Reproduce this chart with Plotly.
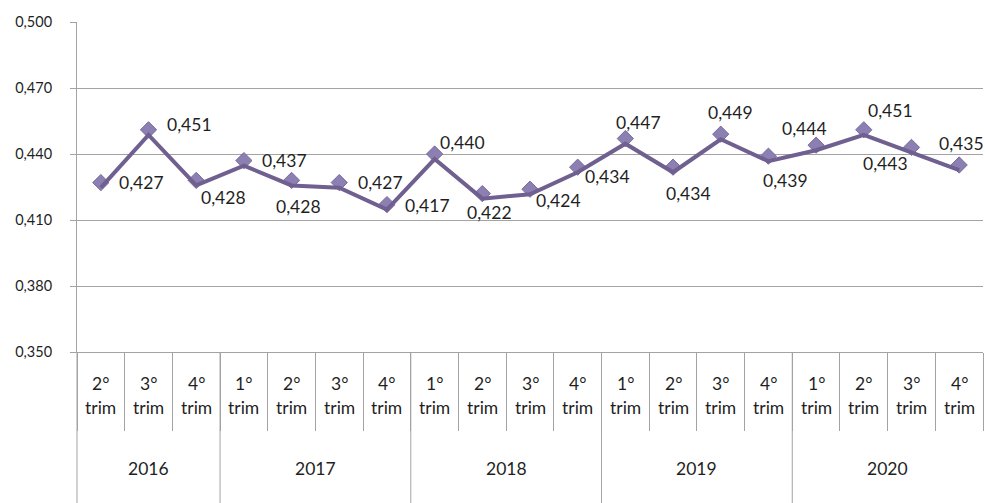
import plotly.graph_objects as go

years = ["2016"] * 3 + ["2017"] * 4 + ["2018"] * 4 + ["2019"] * 4 + ["2020"] * 4
quarters = ["2°", "3°", "4°",
            "1°", "2°", "3°", "4°",
            "1°", "2°", "3°", "4°",
            "1°", "2°", "3°", "4°",
            "1°", "2°", "3°", "4°"]
values = [0.427, 0.451, 0.428,
          0.437, 0.428, 0.427, 0.417,
          0.440, 0.422, 0.424, 0.434,
          0.447, 0.434, 0.449, 0.439,
          0.444, 0.451, 0.443, 0.435]
y_ticks = [0.350, 0.380, 0.410, 0.440, 0.470, 0.500]

# style: pixel offsets of each data label from its marker (dx right, dy up)
label_dx = [41, 41, 27, 41, 7, 41, 41, 28, 7, 28, 30,
            13, 15, 10, 17, -12, 27, -26, 2]
label_dy = [0, 5, -17, 0, -26, 0, -1, 12, -19, -11, -9,
            16, -26, 22, -24, 17, 19, -16, 22]

FONT = "Lato, Carlito, Calibri, sans-serif"
TXT = "#1f1f1f"
GRID = "#A3A3A3"
FS = 17.5
shift = 0.0023  # Excel-style visual offset of the line below the markers

cats = [f"{q} {y}" for q, y in zip(quarters, years)]
labels = [f"{v:.3f}".replace(".", ",") for v in values]
n = len(cats)

fig = go.Figure()
fig.add_trace(go.Scatter(
    x=cats, y=values, mode="lines",
    line=dict(color="#6F6090", width=4),
    yaxis="y2", hoverinfo="skip", showlegend=False))
fig.add_trace(go.Scatter(
    x=cats, y=values, mode="markers",
    marker=dict(symbol="diamond", size=12.5, color="#8C7FB1",
                line=dict(color="#7A6CA0", width=1)),
    showlegend=False, cliponaxis=False))

annotations = []
shapes = []
# data labels
for c, v, t, dx, dy in zip(cats, values, labels, label_dx, label_dy):
    annotations.append(dict(x=c, y=v, xref="x", yref="y", text=t,
                            showarrow=False, xanchor="center", yanchor="middle",
                            xshift=dx, yshift=dy,
                            font=dict(family=FONT, size=FS, color=TXT)))
# quarter labels
for i, (q, y) in enumerate(zip(quarters, years)):
    annotations.append(dict(x=i, y=0, xref="x", yref="paper", text=q,
                            showarrow=False, yanchor="middle", yshift=-31,
                            font=dict(family=FONT, size=FS, color=TXT)))
    annotations.append(dict(x=i, y=0, xref="x", yref="paper", text="trim",
                            showarrow=False, yanchor="middle", yshift=-55,
                            font=dict(family=FONT, size=FS, color=TXT)))

# year group labels and dividers
groups = []
for i, y in enumerate(years):
    if not groups or groups[-1][0] != y:
        groups.append([y, i, i])
    else:
        groups[-1][2] = i
for y, a, b in groups:
    annotations.append(dict(x=(a + b) / 2, y=0, xref="x", yref="paper", text=y,
                            showarrow=False, yanchor="middle", yshift=-116,
                            font=dict(family=FONT, size=FS, color=TXT)))
    shapes.append(dict(type="line", xref="x domain", yref="paper",
                       x0=a / n, x1=a / n, y0=0, y1=-0.46,
                       line=dict(color=GRID, width=1)))

fig.update_layout(
    width=985, height=503,
    margin=dict(l=77, r=2, t=22, b=151),
    paper_bgcolor="white", plot_bgcolor="white",
    font=dict(family=FONT, size=FS, color=TXT),
    annotations=annotations, shapes=shapes,
    xaxis=dict(type="category", range=[-0.5, n - 0.5], showticklabels=False,
               showline=True, linecolor=GRID, linewidth=1, showgrid=False,
               ticks="outside", tickson="boundaries", ticklen=78,
               tickcolor=GRID, tickwidth=1),
    yaxis=dict(range=[0.350, 0.500], tickvals=y_ticks,
               ticktext=[f"{t:.3f}".replace(".", ",") for t in y_ticks],
               showgrid=True, gridcolor=GRID, gridwidth=1,
               showline=True, linecolor=GRID, linewidth=1,
               ticks="outside", ticklen=6, tickcolor=GRID,
               ticklabelstandoff=15, automargin=False,
               zeroline=False, tickfont=dict(family=FONT, size=14.5, color=TXT)),
    yaxis2=dict(range=[0.350 + shift, 0.500 + shift], overlaying="y",
                visible=False),
)

fig.write_html("out.html", config={"displayModeBar": False},
               post_script="document.body.style.margin='0';")
